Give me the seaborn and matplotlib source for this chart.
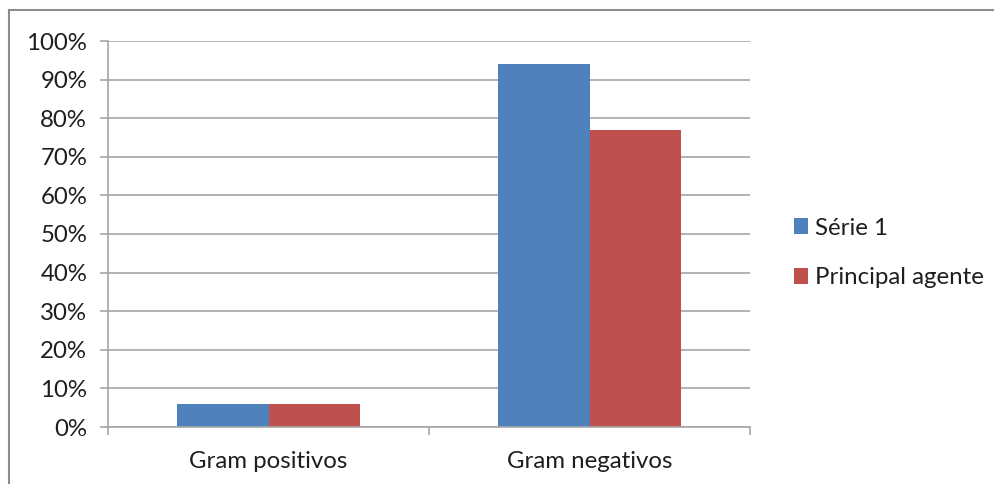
import matplotlib
matplotlib.use("Agg")
import matplotlib.pyplot as plt
import seaborn as sns
import pandas as pd
from matplotlib.patches import Rectangle, Patch
from matplotlib.ticker import PercentFormatter, FixedLocator

categories = ["Gram positivos", "Gram negativos"]
serie1 = [6, 94]
principal_agente = [6, 77]
series_names = ["Série 1", "Principal agente"]
colors = ["#4F81BD", "#C0504D"]

df = pd.DataFrame({
    "cat": categories * 2,
    "val": serie1 + principal_agente,
    "serie": [series_names[0]] * 2 + [series_names[1]] * 2,
})

sns.set_theme(style="white")
plt.rcParams["font.family"] = ["Lato", "DejaVu Sans"]

FS = 17.3
TXT = "#1E1E1E"

fig = plt.figure(figsize=(9.94, 4.84), dpi=100)
ax = fig.add_axes([108/994, 1-427/484, (750-108)/994, (427-41)/484])

sns.barplot(data=df, x="cat", y="val", hue="serie", palette=colors,
            width=0.57, gap=0, ax=ax, legend=False, saturation=1,
            linewidth=0)

ax.set_xlim(-0.5, 1.5)
ax.set_ylim(0, 100)
ax.set_yticks(range(0, 101, 10))
ax.yaxis.set_major_formatter(PercentFormatter(decimals=0))
ax.grid(axis="y", color="#A6A6A6", linewidth=1.2)
ax.set_axisbelow(True)
for s in ["top", "right"]:
    ax.spines[s].set_visible(False)
for s in ["left", "bottom"]:
    ax.spines[s].set_color("#A6A6A6")
    ax.spines[s].set_linewidth(1.2)
ax.set_xlabel("")
ax.set_ylabel("")
ax.tick_params(axis="y", which="major", direction="out", length=6, width=1.2,
               color="#A6A6A6", labelsize=FS, labelcolor=TXT, left=True, pad=9)
ax.tick_params(axis="x", which="major", length=0, labelsize=FS, labelcolor=TXT, pad=17)
ax.xaxis.set_minor_locator(FixedLocator([-0.5, 0.5, 1.5]))
ax.tick_params(axis="x", which="minor", direction="out", length=6, width=1.2,
               color="#A6A6A6", bottom=True)

handles = [Patch(facecolor=c, edgecolor="none") for c in colors]
leg = fig.legend(handles, series_names, loc="center left",
                 bbox_to_anchor=(772/994, 1-253/484), frameon=False,
                 fontsize=FS, handlelength=0.6, handleheight=0.6,
                 handletextpad=0.3, labelspacing=1.2)
for t in leg.get_texts():
    t.set_color(TXT)

fig.patches.append(Rectangle((9/994, -1), 2, 2-10/484, transform=fig.transFigure,
                             fill=False, edgecolor="#8C8C8C", linewidth=1.5))

fig.savefig("out.png", dpi=100)
